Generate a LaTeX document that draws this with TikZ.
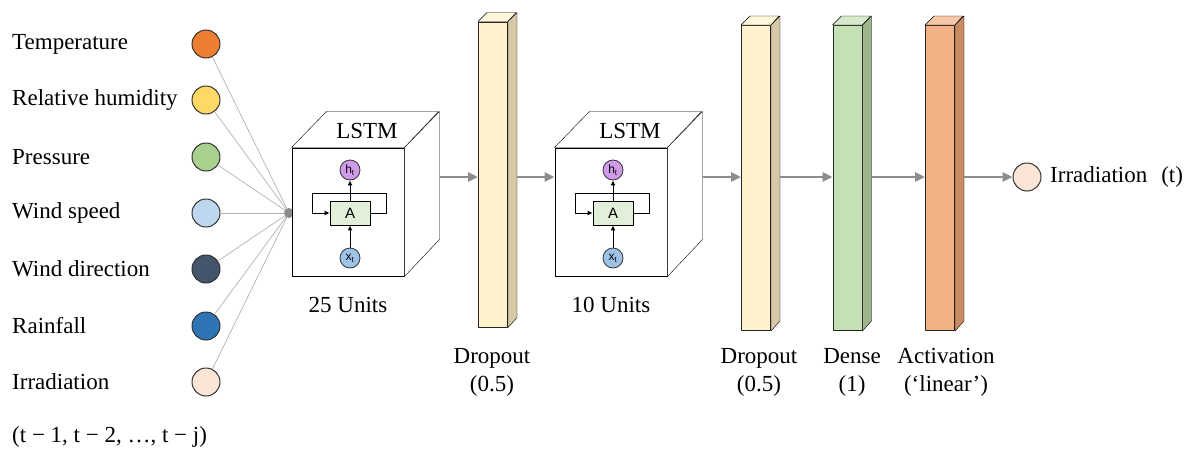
\documentclass[tikz,border=0pt]{standalone}
\usepackage{fontspec}
\setmainfont{Liberation Serif}
\setsansfont{Liberation Sans}
\usetikzlibrary{arrows.meta,positioning}

\definecolor{tempc}{HTML}{ED7D31}
\definecolor{humc}{HTML}{FFD966}
\definecolor{pressc}{HTML}{A9D18E}
\definecolor{windc}{HTML}{BDD7EE}
\definecolor{dirc}{HTML}{44546A}
\definecolor{rainc}{HTML}{2E75B6}
\definecolor{irrc}{HTML}{FBE5D6}
\definecolor{dropf}{HTML}{FFF2CC}
\definecolor{drops}{HTML}{D5C9A7}
\definecolor{densef}{HTML}{C5E0B4}
\definecolor{denses}{HTML}{9FB58E}
\definecolor{actf}{HTML}{F4B183}
\definecolor{acts}{HTML}{C98B63}
\definecolor{cellf}{HTML}{E2F0D9}
\definecolor{hidc}{HTML}{D09BEA}
\definecolor{xinc}{HTML}{9DC3E6}
\definecolor{flowc}{HTML}{8C8C8C}

% top and side faces of a thin layer (front node #1)
\newcommand\layerfaces[3]{%
  \filldraw[fill=#2] (#1.north west) -- ++(9,-9) -- ++(29,0) -- (#1.north east) -- cycle;
  \filldraw[fill=#3] (#1.north east) -- ++(9,-9) -- ++(0,305) -- (#1.south east) -- cycle;}
% top and side faces of an LSTM cube (front node #1)
\newcommand\cubefaces[1]{%
  \filldraw[fill=white] (#1.north west) -- ++(35,-36) -- ++(112,0) -- (#1.north east) -- cycle;
  \filldraw[fill=white] (#1.north east) -- ++(35,-36) -- ++(0,128) -- (#1.south east) -- cycle;}

\begin{document}
\begin{tikzpicture}[x=1pt,y=-1pt,line join=round,
    font=\fontsize{23}{28}\selectfont,
    lab/.style={anchor=west,inner sep=0pt},
    inp/.style={circle,draw=black!80,line width=1pt,minimum size=28pt,inner sep=0pt},
    fan/.style={draw=black!30,line width=0.7pt},
    cube/.style={draw,line width=1pt,fill=white,minimum width=112pt,minimum height=128pt,inner sep=0pt},
    layer/.style={draw=black!85,line width=1pt,minimum width=29pt,minimum height=305pt,inner sep=0pt},
    cell/.style={draw,line width=0.8pt,fill=cellf,minimum width=40pt,minimum height=24pt,inner sep=0pt,
      font=\sffamily\fontsize{15}{15}\selectfont},
    gate/.style={circle,draw=black!80,line width=0.8pt,minimum size=20pt,inner sep=0pt,
      font=\sffamily\fontsize{12}{12}\selectfont},
    small/.style={line width=1pt,-{Latex[length=5pt,width=5pt]}},
    flow/.style={draw=flowc,line width=2.8pt,-{Triangle[length=10pt,width=9pt]}}]
  \useasboundingbox (0,0) rectangle (1187,450);

  % inputs
  \coordinate (hub) at (289,213);
  \foreach \n/\y/\c/\t in {1/44/tempc/Temperature,2/100/humc/Relative humidity,
      3/157/pressc/Pressure,4/213/windc/Wind speed,5/269/dirc/Wind direction,
      6/326/rainc/Rainfall,7/382/irrc/Irradiation}{
    \node[inp,fill=\c] (in\n) at (206,\y) {};
    \node[lab] (lab\n) at (12,\y) {\t};
    \draw[fan] (in\n) -- (hub);
  }
  \node[lab] (lags) at (12,437) {(t − 1, t − 2, …, t − j)};
  \fill[flowc] (hub) circle (5);

  % first LSTM
  \node[cube] (lstmA) at (348,212) {};
  \cubefaces{lstmA}
  \node (lstmAtxt) at (367,131) {LSTM};
  \node[gate,fill=hidc] (hA) at (350,170) {h\textsubscript{t}};
  \node[cell] (cellA) at (350,213) {A};
  \node[gate,fill=xinc] (xA) at (350,258) {x\textsubscript{t}};
  \draw[small] (cellA) -- (hA);
  \draw[small] (xA) -- (cellA);
  \draw[small] (cellA.east) -| ++(16,-20) -| ([xshift=-17pt]cellA.west) -- (cellA.west);
  \node (unitsA) at (348,305) {25 Units};

  % first dropout
  \node[layer,fill=dropf] (dropA) at (493,174.5) {};
  \layerfaces{dropA}{dropf!70}{drops}
  \node[align=center] (dropAtxt) at (492,372) {Dropout\\(0.5)};

  % second LSTM
  \node[cube] (lstmB) at (611,212) {};
  \cubefaces{lstmB}
  \node (lstmBtxt) at (630,131) {LSTM};
  \node[gate,fill=hidc] (hB) at (613,170) {h\textsubscript{t}};
  \node[cell] (cellB) at (613,213) {A};
  \node[gate,fill=xinc] (xB) at (613,258) {x\textsubscript{t}};
  \draw[small] (cellB) -- (hB);
  \draw[small] (xB) -- (cellB);
  \draw[small] (cellB.east) -| ++(16,-20) -| ([xshift=-17pt]cellB.west) -- (cellB.west);
  \node (unitsB) at (611,305) {10 Units};

  % dense part
  \node[layer,fill=dropf] (dropB) at (756,178) {};
  \layerfaces{dropB}{dropf!70}{drops}
  \node[layer,fill=densef] (dense) at (847.5,178) {};
  \layerfaces{dense}{densef!70}{denses}
  \node[layer,fill=actf] (act) at (940,178) {};
  \layerfaces{act}{actf!70}{acts}
  \node[align=center] (dropBtxt) at (759,372) {Dropout\\(0.5)};
  \node[align=center] (densetxt) at (852,372) {Dense\\(1)};
  \node[align=center] (acttxt) at (946,372) {Activation\\(‘linear’)};

  % output
  \node[inp,fill=irrc] (out) at (1027,177) {};
  \node[lab] (outtxt) at (1050,177) {Irradiation\hspace{14pt}(t)};

  % flow arrows
  \coordinate (aOut) at ([xshift=35pt]lstmA.east |- out);
  \coordinate (dAOut) at ([xshift=9pt]dropA.east |- out);
  \coordinate (bOut) at ([xshift=35pt]lstmB.east |- out);
  \coordinate (dBOut) at ([xshift=9pt]dropB.east |- out);
  \coordinate (deOut) at ([xshift=9pt]dense.east |- out);
  \coordinate (acOut) at ([xshift=9pt]act.east |- out);
  \draw[flow] (aOut) -- (dropA.west |- aOut);
  \draw[flow] (dAOut) -- (lstmB.west |- dAOut);
  \draw[flow] (bOut) -- (dropB.west |- bOut);
  \draw[flow] (dBOut) -- (dense.west |- dBOut);
  \draw[flow] (deOut) -- (act.west |- deOut);
  \draw[flow] (acOut) -- (out.west);
\end{tikzpicture}
\end{document}
